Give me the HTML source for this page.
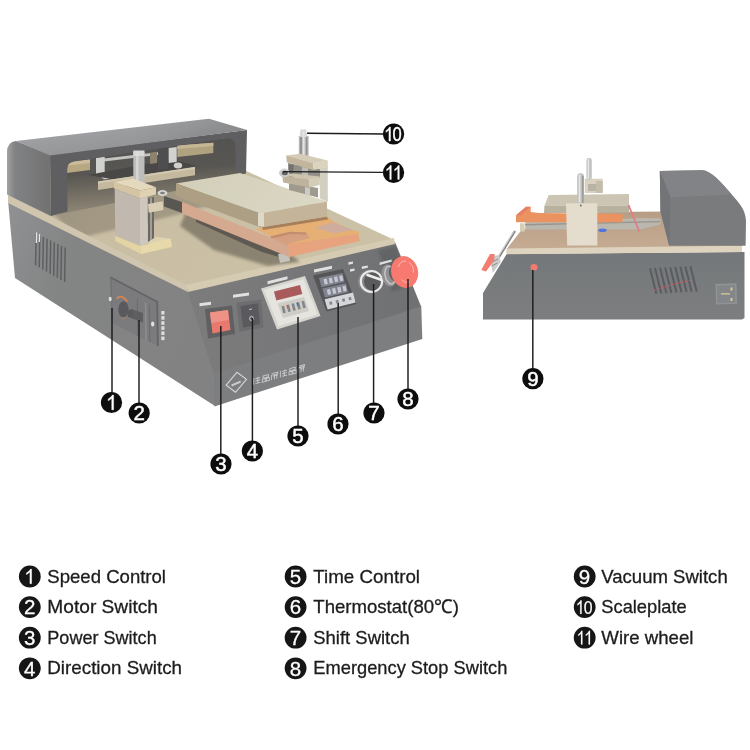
<!DOCTYPE html>
<html>
<head>
<meta charset="utf-8">
<title>Separator machine parts</title>
<style>
html,body{margin:0;padding:0;background:#fff;}
body{width:750px;height:750px;overflow:hidden;font-family:"Liberation Sans",sans-serif;}
svg{display:block;position:absolute;left:0;top:0;}
.lg{font-family:"Liberation Sans",sans-serif;font-size:19px;fill:#1c1c1c;}
.bn{font-family:"Liberation Sans",sans-serif;font-weight:bold;fill:#fff;text-anchor:middle;}
</style>
</head>
<body>
<svg width="750" height="750" viewBox="0 0 750 750">
<defs>
<filter id="soft" x="-5%" y="-5%" width="110%" height="110%" color-interpolation-filters="sRGB"><feGaussianBlur stdDeviation="0.6" result="b"/><feComponentTransfer in="b"><feFuncR type="linear" slope="1.08" intercept="-0.08"/><feFuncG type="linear" slope="1.08" intercept="-0.08"/><feFuncB type="linear" slope="1.08" intercept="-0.08"/></feComponentTransfer></filter>
<filter id="soft2" x="-5%" y="-5%" width="110%" height="110%"><feGaussianBlur stdDeviation="0.35"/></filter>
<filter id="soft3" x="-10%" y="-10%" width="120%" height="120%"><feGaussianBlur stdDeviation="1.6"/></filter>

<linearGradient id="gHoodL" x1="0" y1="0" x2="1" y2="0"><stop offset="0" stop-color="#a9a9aa"/><stop offset="0.18" stop-color="#8b8c8d"/><stop offset="1" stop-color="#7c7c7d"/></linearGradient>
<linearGradient id="gHoodT" gradientUnits="userSpaceOnUse" x1="120" y1="127" x2="123" y2="148"><stop offset="0" stop-color="#a6a7a9"/><stop offset="1" stop-color="#9c9d9f"/></linearGradient>
<linearGradient id="gHoodTx" x1="0" y1="0" x2="1" y2="0"><stop offset="0" stop-color="#000" stop-opacity="0"/><stop offset="0.5" stop-color="#000" stop-opacity="0.0"/><stop offset="1" stop-color="#000" stop-opacity="0.07"/></linearGradient>
<linearGradient id="gBodyL" x1="0" y1="0" x2="1" y2="0.4"><stop offset="0" stop-color="#989a9c"/><stop offset="0.3" stop-color="#8e8f8f"/><stop offset="1" stop-color="#8c8c8d"/></linearGradient>
<linearGradient id="gPanel" x1="0" y1="0" x2="1" y2="0"><stop offset="0" stop-color="#868687"/><stop offset="1" stop-color="#7b7c7e"/></linearGradient>
<linearGradient id="gTan" x1="0" y1="0" x2="1" y2="0.3"><stop offset="0" stop-color="#bdb4a1"/><stop offset="0.35" stop-color="#cdc3ab"/><stop offset="1" stop-color="#cfc6ae"/></linearGradient>
<linearGradient id="gPlate" x1="0" y1="0" x2="1" y2="0.3"><stop offset="0" stop-color="#d6d2be"/><stop offset="1" stop-color="#dddac8"/></linearGradient>
<linearGradient id="gFloor" x1="0" y1="0" x2="0.15" y2="1"><stop offset="0" stop-color="#5f5f5f"/><stop offset="0.5" stop-color="#65635f"/><stop offset="1" stop-color="#9a9282"/></linearGradient>

<linearGradient id="gRBody" x1="0" y1="0" x2="0" y2="1"><stop offset="0" stop-color="#7f8284"/><stop offset="1" stop-color="#868889"/></linearGradient>
<linearGradient id="gRTan" x1="0" y1="0" x2="0" y2="1"><stop offset="0" stop-color="#bea58f"/><stop offset="1" stop-color="#c9b29b"/></linearGradient>

</defs>
<rect width="750" height="750" fill="#ffffff"/>
<!-- left machine -->
<g filter="url(#soft)">
<polygon points="8,200 188,289 215,374 215,406 15,278" fill="url(#gBodyL)"/>
<polygon points="187,289 395,242 421.3,307 214,375" fill="url(#gPanel)"/>
<polygon points="214,373 421.3,306.5 422.3,339 214.5,406.5" fill="#87888a"/>
<polygon points="8,196 187,288 394.5,240 240,168 50,150" fill="url(#gTan)"/>
<polygon points="51,212 236,172 262,190 180,214 80,238" fill="#3a3630" opacity="0.24" filter="url(#soft3)"/>
<polygon points="8,195 186,285 188,292 8,203" fill="#d4cab5"/>
<polygon points="186,285 394,238 395,244 188,292" fill="#d9cfb8"/>
<polygon points="60,160 240,136 240,178 60,214" fill="url(#gFloor)"/>
<polygon points="66.7,162 90,159.5 90,170 66.7,173" fill="#bdae8c"/>
<polygon points="66.7,162 90,159.5 90,163 66.7,165.5" fill="#cfc2a2"/>
<polygon points="104,158.6 160,152 160,154.8 104,161.6" fill="#c9c9c6"/>
<polygon points="96,157.5 104.7,156.7 104.7,175 96,175" fill="#d5d5d2"/>
<ellipse cx="106" cy="176" rx="5" ry="3.2" fill="#d8d8d6"/>
<polygon points="88,175 114,179.5 196,166 172,159" fill="#575654"/>
<polygon points="150,152.7 157,152 157,163 150,164" fill="#968c78"/>
<polygon points="158,147 168,146.5 168,169 158,170" fill="#5c5c5d"/>
<polygon points="168.7,148 176.7,147 176.7,162 168.7,163" fill="#d6d6d3"/>
<polygon points="177.3,145.5 213.3,142.8 213.3,153 177.3,157" fill="#b7a989"/>
<polygon points="177.3,145.5 213.3,142.8 213.3,146 177.3,149" fill="#c9bc9c"/>
<ellipse cx="178" cy="165.5" rx="4.2" ry="3" fill="#d4d4d2"/>
<polygon points="98,181.5 195,167 195,175.3 98,190" fill="#c9bfa6"/>
<polygon points="98,181.5 195,167 195,169 98,183.5" fill="#d6cdb7"/>
<path fill-rule="evenodd" fill="#6b6b6d" d="M50,154.5 L247,130 L246,173.5 L235.5,175.5 L235.3,146 Q235,137.6 226,138.2 L74,161.6 Q67,162.8 67.2,169.5 L67.5,211.5 L51,216 Z"/>
<path d="M7,194.5 L7,152 Q7,142 16,141 L50,154.5 L51,216 Z" fill="url(#gHoodL)"/>
<polygon points="16,141 209,118.7 247,130 50,155.4" fill="url(#gHoodT)"/>
<polygon points="16,141 209,118.7 247,130 50,155.4" fill="url(#gHoodTx)"/>
<polygon points="186,212 230,231 288,252 300,262 268,266 214,250 180,226" fill="#6e675b" opacity="0.6" filter="url(#soft3)"/>
<polygon points="196,214 264,244 286,254 286,259 262,252 196,222" fill="#6a665f"/>
<polygon points="278,254 289,252 290,261 280,263" fill="#c9c7c0"/>
<polygon points="182,202 288,244.6 289,257 182,213.5" fill="#d9b099"/>
<polygon points="256,229.5 262,227 327,216.5 334,222 352,230 360,232 358,235 290,247.6 288,244.6" fill="#e8b57e"/>
<polygon points="288,244.4 358,234 360,241 289,257" fill="#e9aa88"/>
<polygon points="262,227 327,216.5 328,219.5 263,230" fill="#7d6455" opacity="0.55"/>
<polygon points="315,227.4 333,222.6 353,230 334,233.6" fill="#d2b3a6"/>
<polygon points="270,236.5 290,231.8 306,232.6 310,238 289,243.8 287,246" fill="#d9a78c"/>
<polygon points="270,236.5 290,231.8 306,232.6 307,234.4 291,234 272,238.6" fill="#c99579"/>
<polygon points="176,183.5 240,173 327,201.5 261,213.5" fill="url(#gPlate)"/>
<polygon points="176,183.5 261,213.5 261,227.5 176,196" fill="#b3a78e"/>
<polygon points="261,213.5 327,201.5 327,216.5 261,227.5" fill="#c9bba2"/>
<polygon points="258,212.5 264,213 264,226.5 258,226" fill="#e1dccb"/>
<polygon points="164,196 182,202 182,213 164,206.5" fill="#66645f"/>
<polygon points="133.3,152 144.5,152 144.5,184 133.3,183.5" fill="#c3c3c1"/>
<polygon points="133.3,150.5 144.5,150.5 144.5,156 133.3,156" fill="#dcdcdb"/>
<polygon points="136,152 138.5,152 138.5,183 136,183" fill="#e3e3e2" opacity="0.7"/>
<polygon points="114,182 133,178.5 156,187.3 140,190.5" fill="#e7dcc2"/>
<polygon points="114,182 140,190.5 140,198.5 114,188.5" fill="#d9caab"/>
<polygon points="140,190.5 156,187.3 156,194.5 140,198.5" fill="#e2d6ba"/>
<polygon points="114.7,188.5 140,198.5 140,246 115.3,236" fill="#c6bfb5"/>
<polygon points="140,198.5 147.5,196.5 147.5,243 140,246" fill="#d2ccc2"/>
<polygon points="148,198 154,197 154,242 148,243" fill="#77756f"/>
<polygon points="150,198 152,197.7 152,242.3 150,242.6" fill="#a9a7a0"/>
<polygon points="148,204 162.7,201.3 163.3,210 148.7,212.7" fill="#ddd3bb"/>
<ellipse cx="162.5" cy="193" rx="5" ry="3" fill="#d9d9d7"/>
<ellipse cx="162.5" cy="193" rx="2.4" ry="1.3" fill="#8a8a88"/>
<polygon points="147,242.7 156,236.7 170.7,238.7 153,245" fill="#e2d6b6"/>
<polygon points="115.3,236 140,246 141,254 115.3,241" fill="#e6d7aa"/>
<polygon points="140,246 170.7,238.5 172,247 141,254" fill="#eadcb2"/>
<polygon points="319.8,168 327.8,166.8 327.8,202 319.8,198.5" fill="#d6d3c6"/>
<polygon points="288,163 320,169 320,179 288,176" fill="#9b9992"/>
<polygon points="289,164 293.5,165 293.5,178 289,177" fill="#7f7d78"/>
<polygon points="302,167 308,168 308,181 302,180" fill="#c2c1bc"/>
<polygon points="289,183 318,188 318,197.5 289,190" fill="#a7a296"/>
<polygon points="305,187 310,188 310,196 305,195" fill="#cfcfcb"/>
<polygon points="298.8,136 308.6,136 308.6,158.5 298.8,158.5" fill="#bdbdbb"/>
<polygon points="300.6,129.6 306.2,129.6 307,137 299.8,137" fill="#d9d9d8"/>
<rect x="300.3" y="137" width="1.4" height="21" fill="#8e8e8c"/>
<rect x="302.6" y="131" width="2" height="27" fill="#e6e6e5"/>
<rect x="306" y="137" width="1.3" height="21" fill="#9a9a98"/>
<polygon points="286.2,155.6 300,153.8 327.8,160.6 313.2,163.4" fill="#d8d0bc"/>
<polygon points="286.2,155.6 313.2,163.2 313.2,170 286.8,162.2" fill="#c8bca5"/>
<polygon points="313.2,163.2 327.8,160.6 327.8,167 313.2,170" fill="#ddd7c3"/>
<polygon points="282,175 292,173.4 319.8,176.4 309.6,179.8" fill="#d3cab5"/>
<polygon points="282,175 309.6,179.8 309.6,187.4 283.2,182.6" fill="#c3b9a4"/>
<polygon points="309.6,179.6 319.8,176.4 319.8,185 309.6,187.4" fill="#d7d0bd"/>
<ellipse cx="284.2" cy="172.8" rx="5.2" ry="4.4" fill="#cfcfcd"/>
<ellipse cx="284.8" cy="173" rx="3" ry="2.2" fill="#6f6f72"/>
<path d="M279.4,171.5 A5.2,4.4 0 0 1 288.5,170.5" fill="none" stroke="#efefee" stroke-width="1"/>
<polygon points="205,309 232,305.5 235,334 208,338.5" fill="#6c6c6e"/>
<polygon points="210,312.5 228,310 230.5,330 212.5,333.5" fill="#eb8379"/>
<polygon points="210,312.5 228,310 229,320 211.2,323" fill="#f09a90"/>
<polygon points="236.5,303 261,299.5 263.5,327.5 239.5,331.5" fill="#78787a"/>
<polygon points="240.5,306 258,303.3 260,324 243,327.8" fill="#67676a"/>
<ellipse cx="251.5" cy="318.5" rx="1.8" ry="2.2" fill="none" stroke="#e8e8e8" stroke-width="0.8"/>
<line x1="249" y1="309.5" x2="252" y2="309" stroke="#e0e0e0" stroke-width="0.8"/>
<polygon points="261,288.5 305,276 320.5,316 277,329.5" fill="#d9d8d2"/>
<polygon points="264,290 303.5,279 317.5,314.5 278.5,326" fill="#e7e6e1"/>
<polygon points="274,291.5 300,285 302.3,294 276.3,300.5" fill="#b06868"/>
<polygon points="277.5,303.5 304,297 309,311 283,318" fill="#d2d1cb"/>
<polygon points="281.5,306.3 284.1,305.7 285.8,312.7 283.2,313.3" fill="#8d8f92"/>
<polygon points="286.5,305.1 289.1,304.4 290.8,311.4 288.2,312.1" fill="#8d8f92"/>
<polygon points="291.5,303.8 294.1,303.2 295.8,310.2 293.2,310.8" fill="#8d8f92"/>
<polygon points="296.5,302.6 299.1,301.9 300.8,308.9 298.2,309.6" fill="#8d8f92"/>
<polygon points="301.5,301.3 304.1,300.7 305.8,307.7 303.2,308.3" fill="#8d8f92"/>
<polygon points="286.3,305.5 287.8,305.1 288.6,308.3 287.1,308.7" fill="#d46a60"/>
<polygon points="296.4,303 297.9,302.6 298.7,305.8 297.2,306.2" fill="#5b77c0"/>
<polygon points="313,275.5 343,269 356.5,304 326.5,311.5" fill="#626265"/>
<polygon points="319,278 342.5,273 344.5,282 321.5,287.2" fill="#8b8d97"/>
<polygon points="322.3,288.5 346,283.3 348,292.3 325,297.5" fill="#8b8d97"/>
<polygon points="323.5,279.3 326.7,278.6 327.8,283.9 324.6,284.6" fill="#c9ccd6"/>
<polygon points="326.8,289.7 330.0,289.0 331.1,294.3 327.9,295.0" fill="#c9ccd6"/>
<polygon points="328.7,278.2 331.9,277.5 333.0,282.8 329.8,283.5" fill="#c9ccd6"/>
<polygon points="332.0,288.6 335.2,287.9 336.3,293.2 333.1,293.9" fill="#c9ccd6"/>
<polygon points="333.9,277.0 337.1,276.3 338.2,281.6 335.0,282.3" fill="#c9ccd6"/>
<polygon points="337.2,287.4 340.4,286.7 341.5,292.0 338.3,292.7" fill="#c9ccd6"/>
<polygon points="339.1,275.9 342.3,275.2 343.4,280.5 340.2,281.2" fill="#c9ccd6"/>
<polygon points="342.4,286.2 345.6,285.6 346.7,290.9 343.5,291.6" fill="#c9ccd6"/>
<polygon points="324.6,299.2 353,292.6 355.6,302.4 327.6,309.6" fill="#d9dadd"/>
<polygon points="329.1,301.9 331.7,301.3 332.5,304.3 329.9,304.9" fill="#8f9197"/>
<polygon points="335.5,300.4 338.1,299.8 338.9,302.8 336.3,303.4" fill="#8f9197"/>
<polygon points="341.9,298.9 344.5,298.3 345.3,301.3 342.7,301.9" fill="#8f9197"/>
<polygon points="348.3,297.4 350.9,296.8 351.7,299.8 349.1,300.4" fill="#8f9197"/>
<polygon points="378,250 396,246 410,285 392,292" fill="#000" opacity="0.1" filter="url(#soft3)"/>
<ellipse cx="370.8" cy="281.6" rx="13" ry="11.8" fill="#8f8f91"/>
<ellipse cx="371.4" cy="281.4" rx="10.6" ry="10.4" fill="none" stroke="#ececec" stroke-width="2.2"/>
<ellipse cx="372.4" cy="281.6" rx="8.4" ry="9.2" fill="#68686a"/>
<line x1="367.5" y1="275" x2="382.5" y2="280.2" stroke="#f0f0f0" stroke-width="2.6" stroke-linecap="round"/>
<ellipse cx="388.8" cy="275.4" rx="7.2" ry="11.2" fill="#9a9a9c" transform="rotate(-12 389.5 275)"/>
<ellipse cx="390" cy="275" rx="5" ry="9" fill="none" stroke="#c9c9ca" stroke-width="1.5" transform="rotate(-12 390.5 274.6)"/>
<ellipse cx="394" cy="273.5" rx="5" ry="8" fill="#707073" transform="rotate(-12 394 273.5)"/>
<ellipse cx="404.6" cy="272" rx="13.4" ry="16" fill="#f8837b" transform="rotate(-14 404.6 272)"/>
<path d="M398.5,267 A7,9 -14 0 1 406,261.2" fill="none" stroke="#f8c9c3" stroke-width="0.9"/>
<path d="M409,262.4 A7,9 -14 0 1 413.3,272.5" fill="none" stroke="#f8c9c3" stroke-width="0.9"/>
<path d="M409.5,281.7 A7,9 -14 0 1 401.6,279.6" fill="none" stroke="#f8c9c3" stroke-width="0.9"/>
<polygon points="199.5,303.2 211.0,301.7 211.0,304.7 199.5,306.2" fill="#f4f4f5" opacity="0.85"/>
<polygon points="233.0,294.8 249.0,292.6 249.0,295.6 233.0,297.8" fill="#f4f4f5" opacity="0.85"/>
<polygon points="267.5,281.2 287.5,276.2 287.5,279.2 267.5,284.2" fill="#f4f4f5" opacity="0.85"/>
<polygon points="314.0,269.4 332.0,265.8 332.0,268.8 314.0,272.4" fill="#f4f4f5" opacity="0.85"/>
<polygon points="348.4,262.3 353.0,261.4 353.0,263.8 348.4,264.7" fill="#f4f4f5" opacity="0.85"/>
<polygon points="350.0,269.3 354.6,268.4 354.6,270.8 350.0,271.7" fill="#f4f4f5" opacity="0.85"/>
<polygon points="361.8,266.6 367.8,265.4 367.8,267.8 361.8,269.0" fill="#f4f4f5" opacity="0.85"/>
<polygon points="379.6,262.6 391.6,259.4 391.6,261.8 379.6,265.0" fill="#f4f4f5" opacity="0.85"/>
<polygon points="226.2,385.2 237,372.2 246.5,379.3 235.5,392.3" fill="none" stroke="#dcdcde" stroke-width="1.1"/>
<polygon points="231.3,384.6 240.5,380.6 241,382.6 231.8,386.6" fill="#dcdcde" opacity="0.85"/>
<g transform="translate(253.2 378.2) skewY(-15)" stroke="#d6d6d9" stroke-width="0.9" fill="none" opacity="0.9"><path d="M0.5,0 V6.6 M2.2,1.2 H7 M2.2,3.4 H7 M4.6,0 V6.8 M2.2,6 H7.2"/></g>
<g transform="translate(262.1 375.8) skewY(-15)" stroke="#d6d6d9" stroke-width="0.9" fill="none" opacity="0.9"><path d="M1,0.4 H6.4 V2.6 H1 Z M0.2,3.6 H3.2 V6.6 H0.2 Z M4.2,3.6 H7.2 V6.6 H4.2 Z"/></g>
<g transform="translate(271.0 373.4) skewY(-15)" stroke="#d6d6d9" stroke-width="0.9" fill="none" opacity="0.9"><path d="M0.6,0.4 H6.8 V2 H0.6 V6.8 M2.2,3.4 H7 M3.4,2.2 V6.8 M5.8,2.2 V6.8"/></g>
<g transform="translate(279.9 370.9) skewY(-15)" stroke="#d6d6d9" stroke-width="0.9" fill="none" opacity="0.9"><path d="M0.5,0 V6.6 M2.2,1.2 H7 M2.2,3.4 H7 M4.6,0 V6.8 M2.2,6 H7.2"/></g>
<g transform="translate(288.8 368.5) skewY(-15)" stroke="#d6d6d9" stroke-width="0.9" fill="none" opacity="0.9"><path d="M1,0.4 H6.4 V2.6 H1 Z M0.2,3.6 H3.2 V6.6 H0.2 Z M4.2,3.6 H7.2 V6.6 H4.2 Z"/></g>
<g transform="translate(297.7 366.1) skewY(-15)" stroke="#d6d6d9" stroke-width="0.9" fill="none" opacity="0.9"><path d="M0.6,0.4 H6.8 V2 H0.6 V6.8 M2.2,3.4 H7 M3.4,2.2 V6.8 M5.8,2.2 V6.8"/></g>
<line x1="36.2" y1="233.5" x2="35.6" y2="265.5" stroke="#6b6b6e" stroke-width="1.5"/>
<line x1="39.8" y1="235.2" x2="39.2" y2="267.6" stroke="#6b6b6e" stroke-width="1.5"/>
<line x1="43.4" y1="237.0" x2="42.8" y2="269.6" stroke="#6b6b6e" stroke-width="1.5"/>
<line x1="47.1" y1="238.8" x2="46.5" y2="271.6" stroke="#6b6b6e" stroke-width="1.5"/>
<line x1="50.7" y1="240.5" x2="50.1" y2="273.7" stroke="#6b6b6e" stroke-width="1.5"/>
<line x1="54.3" y1="242.2" x2="53.7" y2="275.8" stroke="#6b6b6e" stroke-width="1.5"/>
<line x1="57.9" y1="244.0" x2="57.3" y2="277.8" stroke="#6b6b6e" stroke-width="1.5"/>
<line x1="61.5" y1="245.8" x2="60.9" y2="279.9" stroke="#6b6b6e" stroke-width="1.5"/>
<line x1="65.2" y1="247.5" x2="64.6" y2="281.9" stroke="#6b6b6e" stroke-width="1.5"/>
<line x1="36.6" y1="232.5" x2="36.3" y2="243" stroke="#e9e9ea" stroke-width="1.3"/>
<line x1="39.6" y1="234" x2="39.4" y2="242" stroke="#e9e9ea" stroke-width="1.2"/>
<polygon points="110,277 157.2,301.5 158,346 112,323" fill="#858587"/>
<polyline points="110.3,277.3 157.2,301.8 157.9,346" fill="none" stroke="#707073" stroke-width="1.8"/>
<polyline points="111,278 112.3,322" fill="none" stroke="#7c7c7f" stroke-width="1.2"/>
<line x1="137.4" y1="299" x2="137.8" y2="336" stroke="#77777a" stroke-width="1.1"/>
<line x1="145.6" y1="303" x2="146" y2="340" stroke="#98989a" stroke-width="1.4"/>
<line x1="149.4" y1="305" x2="149.8" y2="342" stroke="#77777a" stroke-width="1.1"/>
<ellipse cx="123.5" cy="309.5" rx="5.2" ry="8.2" fill="#66666a"/>
<path d="M116.6,298.6 Q122,293.5 127.3,301.6" fill="none" stroke="#d98f63" stroke-width="1.8"/>
<path d="M121,317.8 Q124.5,319 126.5,316.5" fill="none" stroke="#c78a68" stroke-width="1.1" opacity="0.8"/>
<polygon points="131,309 143,313 143,322.5 131,318" fill="#6a6a6d"/>
<polygon points="128,310.5 133,309 133,318.2 128,317" fill="#67676a"/>
<ellipse cx="110.2" cy="299" rx="1.5" ry="2.2" fill="#e3e3e1"/>
<ellipse cx="152.7" cy="324" rx="1.7" ry="2.5" fill="#e3e3e1"/>
<rect x="161.3" y="311.0" width="3.2" height="3.6" fill="#ededee" opacity="0.85"/>
<rect x="161.3" y="316.1" width="3.2" height="3.6" fill="#ededee" opacity="0.85"/>
<rect x="161.3" y="321.2" width="3.2" height="3.6" fill="#ededee" opacity="0.85"/>
<rect x="161.3" y="326.3" width="3.2" height="3.6" fill="#ededee" opacity="0.85"/>
<rect x="161.3" y="331.4" width="3.2" height="3.6" fill="#ededee" opacity="0.85"/>
<rect x="161.3" y="336.5" width="3.2" height="3.6" fill="#ededee" opacity="0.85"/>
</g>
<!-- right machine -->
<g filter="url(#soft)">
<polygon points="506.7,254 744.5,252 744.5,318 742,319.5 483,319.5 483,293" fill="url(#gRBody)"/>
<polygon points="521.5,230 600,212 670,211.5 670,240 742,240 742,249 506.7,249" fill="url(#gRTan)"/>
<polygon points="506.5,248.6 742,245.8 742,252 506.5,254.2" fill="#e1d7c3"/>
<line x1="515" y1="231" x2="497.5" y2="259.5" stroke="#8b8b8b" stroke-width="2.2"/>
<line x1="514" y1="231" x2="496.5" y2="259.5" stroke="#d2d2d2" stroke-width="1.2"/>
<polygon points="525.3,218.5 566,222 640,218 660.5,218.5 660.5,224.5 640,229.5 525.3,229.6" fill="#c0bdb5"/>
<polygon points="525.3,224 660,221 660,222.2 525.3,225.4" fill="#9f9d97"/>
<polygon points="520,223.3 524.7,223.3 524.7,231.5 520,231.5" fill="#dbd2bd"/>
<ellipse cx="602.5" cy="230.3" rx="4.2" ry="1.8" fill="#5d7fe0"/>
<polygon points="548.7,195 629,194 629,205.5 544.4,206" fill="#d0cab9"/>
<polygon points="544.4,206 629,205.5 629,212.5 544,213.2" fill="#bdb7a6"/>
<polygon points="516,215.3 526,206.8 530.7,206.8 530.7,212 539,213 622.5,214 622.5,222.3 516,222.3" fill="#ed9b6c"/>
<polygon points="516,215.3 526,206.8 530.7,206.8 521,215.3" fill="#e88a70"/>
<line x1="628.5" y1="205" x2="639.3" y2="231.5" stroke="#e28892" stroke-width="1.9"/>
<polygon points="584.7,178.7 602.7,178.7 602.7,193 584.7,193" fill="#ddd5c3"/>
<polygon points="596,181 602.7,181 602.7,193 596,193" fill="#c9c2b0"/>
<polygon points="588,184 596,184 596,191 588,191" fill="#bdb9ad"/>
<rect x="586.4" y="158" width="5.4" height="22" rx="2.4" fill="#c8c8c6"/>
<rect x="587.6" y="159" width="1.5" height="20" fill="#e9e9e8"/>
<rect x="577.2" y="173.2" width="6.8" height="31" rx="3" fill="#c4c4c2"/>
<rect x="578.6" y="174.5" width="1.8" height="28" fill="#e8e8e7"/>
<rect x="582" y="176" width="1.6" height="27" fill="#a3a3a1"/>
<polygon points="566,203.3 597.3,203.3 597.3,245.5 567.2,245.5" fill="#e6e0d1"/>
<circle cx="580.8" cy="205.5" r="0.9" fill="#77756f"/>
<polygon points="490,256.5 499.3,255 500.7,262 492.7,273" fill="#cfcfcf"/>
<line x1="492" y1="262" x2="498" y2="259" stroke="#8a8a8a" stroke-width="0.8"/>
<line x1="491.5" y1="266" x2="497.5" y2="263" stroke="#8a8a8a" stroke-width="0.8"/>
<polygon points="481.3,270 490,254 494.7,254 494,260.7 486,271.5" fill="#f3877b"/>
<ellipse cx="534" cy="267.2" rx="3.5" ry="3.3" fill="#f5837a"/>
<path d="M659.8,171 L702,170.3 C711,170.6 721,182 731.8,194.6 C738.5,202.5 745.5,209 746,221 L745.6,245.8 L669,245.8 L660.5,211.5 Z" fill="#848587"/>
<path d="M659.8,171 L702,170.3 C711,170.6 721,182 731.8,194.6 L670,197.2 Z" fill="#8c8d8f"/>
<polygon points="659.8,171 670.4,196.7 669.6,245.8 660.5,211.5" fill="#7e7f82"/>
<line x1="650.0" y1="268.2" x2="656.3" y2="293.8" stroke="#66686c" stroke-width="1.9"/>
<line x1="655.0" y1="267.9" x2="661.3" y2="293.5" stroke="#66686c" stroke-width="1.9"/>
<line x1="660.1" y1="267.7" x2="666.4" y2="293.2" stroke="#66686c" stroke-width="1.9"/>
<line x1="665.1" y1="267.4" x2="671.4" y2="292.9" stroke="#66686c" stroke-width="1.9"/>
<line x1="670.2" y1="267.2" x2="676.5" y2="292.6" stroke="#66686c" stroke-width="1.9"/>
<line x1="675.2" y1="266.9" x2="681.5" y2="292.3" stroke="#66686c" stroke-width="1.9"/>
<line x1="680.3" y1="266.7" x2="686.6" y2="292.0" stroke="#66686c" stroke-width="1.9"/>
<line x1="685.4" y1="266.4" x2="691.6" y2="291.7" stroke="#66686c" stroke-width="1.9"/>
<line x1="690.4" y1="266.2" x2="696.7" y2="291.4" stroke="#66686c" stroke-width="1.9"/>
<path d="M654,290.5 Q672,284 690,280.5" fill="none" stroke="#e0626a" stroke-width="1" stroke-dasharray="2.2 1.4"/>
<polygon points="715.5,284 736.5,283.2 737,304 716,304.6" fill="#9a9c9f"/>
<polygon points="717,285.4 735,284.7 735.5,302.7 717.5,303.3" fill="#8e9093"/>
<rect x="730.5" y="287.5" width="2" height="3" fill="#d9cf9b"/>
<rect x="730.5" y="298" width="2" height="3" fill="#d9cf9b"/>
<rect x="721" y="293.2" width="9" height="1.3" fill="#d9cf9b"/>
</g>
<!-- callouts -->
<g filter="url(#soft2)">
<line x1="112.0" y1="308.0" x2="112.0" y2="392.0" stroke="#1c1c1c" stroke-width="1.45"/>
<line x1="139.0" y1="320.0" x2="139.0" y2="403.0" stroke="#1c1c1c" stroke-width="1.45"/>
<line x1="220.8" y1="326.0" x2="220.8" y2="454.0" stroke="#1c1c1c" stroke-width="1.45"/>
<line x1="252.4" y1="318.0" x2="252.4" y2="441.0" stroke="#1c1c1c" stroke-width="1.45"/>
<line x1="298.0" y1="317.0" x2="298.0" y2="426.0" stroke="#1c1c1c" stroke-width="1.45"/>
<line x1="338.2" y1="303.0" x2="338.2" y2="414.0" stroke="#1c1c1c" stroke-width="1.45"/>
<line x1="373.6" y1="284.0" x2="373.6" y2="403.0" stroke="#1c1c1c" stroke-width="1.45"/>
<line x1="408.0" y1="279.0" x2="408.0" y2="389.0" stroke="#1c1c1c" stroke-width="1.45"/>
<line x1="532.8" y1="270.0" x2="532.8" y2="368.0" stroke="#1c1c1c" stroke-width="1.45"/>
<line x1="307.0" y1="133.2" x2="383.0" y2="134.0" stroke="#1c1c1c" stroke-width="1.45"/>
<line x1="283.0" y1="171.6" x2="383.0" y2="172.4" stroke="#1c1c1c" stroke-width="1.45"/>
<circle cx="111.5" cy="402.5" r="10.6" fill="#111"/>
<path d="M113.58,409.80 L111.78,409.80 L111.78,398.32 Q110.79,399.29 108.22,400.72 L108.22,398.98 Q111.19,397.49 112.42,395.07 L113.58,395.07 Z" fill="#fff" stroke="#fff" stroke-width="0.45"/>
<circle cx="139.2" cy="413.0" r="10.6" fill="#111"/>
<text class="bn" x="139.2" y="420.3" font-size="20.5" stroke="#fff" stroke-width="0.45" style="font-weight:normal">2</text>
<circle cx="221.0" cy="464.0" r="10.6" fill="#111"/>
<text class="bn" x="221.0" y="471.3" font-size="20.5" stroke="#fff" stroke-width="0.45" style="font-weight:normal">3</text>
<circle cx="252.4" cy="451.0" r="10.6" fill="#111"/>
<text class="bn" x="252.4" y="458.3" font-size="20.5" stroke="#fff" stroke-width="0.45" style="font-weight:normal">4</text>
<circle cx="298.0" cy="436.0" r="10.6" fill="#111"/>
<text class="bn" x="298.0" y="443.3" font-size="20.5" stroke="#fff" stroke-width="0.45" style="font-weight:normal">5</text>
<circle cx="338.0" cy="424.0" r="10.6" fill="#111"/>
<text class="bn" x="338.0" y="431.3" font-size="20.5" stroke="#fff" stroke-width="0.45" style="font-weight:normal">6</text>
<circle cx="374.0" cy="413.0" r="10.6" fill="#111"/>
<text class="bn" x="374.0" y="420.3" font-size="20.5" stroke="#fff" stroke-width="0.45" style="font-weight:normal">7</text>
<circle cx="408.0" cy="399.0" r="10.6" fill="#111"/>
<text class="bn" x="408.0" y="406.3" font-size="20.5" stroke="#fff" stroke-width="0.45" style="font-weight:normal">8</text>
<circle cx="532.9" cy="378.7" r="10.6" fill="#111"/>
<text class="bn" x="532.9" y="386.0" font-size="20.5" stroke="#fff" stroke-width="0.45" style="font-weight:normal">9</text>
<circle cx="393.6" cy="134.0" r="10.6" fill="#111"/>
<path d="M390.50,141.00 L388.95,141.00 L388.95,130.08 Q388.11,131.00 385.90,132.36 L385.90,130.71 Q388.45,129.29 389.50,126.98 L390.50,126.98 Z" fill="#fff" stroke="#fff" stroke-width="0.40"/>
<text class="bn" x="397.2" y="141.0" font-size="19.5" textLength="9.2" lengthAdjust="spacingAndGlyphs" stroke="#fff" stroke-width="0.4" style="font-weight:normal">0</text>
<circle cx="393.6" cy="172.4" r="10.6" fill="#111"/>
<path d="M391.30,179.40 L389.75,179.40 L389.75,168.48 Q388.91,169.40 386.70,170.76 L386.70,169.11 Q389.25,167.69 390.30,165.38 L391.30,165.38 Z" fill="#fff" stroke="#fff" stroke-width="0.40"/>
<path d="M399.30,179.40 L397.75,179.40 L397.75,168.48 Q396.91,169.40 394.70,170.76 L394.70,169.11 Q397.25,167.69 398.30,165.38 L399.30,165.38 Z" fill="#fff" stroke="#fff" stroke-width="0.40"/>
</g>
<!-- legend -->
<g filter="url(#soft2)">
<circle cx="29.8" cy="576.5" r="10.9" fill="#141414"/>
<path d="M31.68,583.80 L29.88,583.80 L29.88,572.32 Q28.89,573.29 26.32,574.72 L26.32,572.98 Q29.29,571.49 30.52,569.07 L31.68,569.07 Z" fill="#fff" stroke="#fff" stroke-width="0.30"/>
<text class="lg" stroke="#1c1c1c" stroke-width="0.3" x="47.3" y="582.6" textLength="118.7" lengthAdjust="spacingAndGlyphs">Speed Control</text>
<circle cx="29.8" cy="607.1" r="10.9" fill="#141414"/>
<text class="bn" x="29.6" y="614.4" font-size="20.5" stroke="#fff" stroke-width="0.3" style="font-weight:normal">2</text>
<text class="lg" stroke="#1c1c1c" stroke-width="0.3" x="47.3" y="613.0" textLength="110.7" lengthAdjust="spacingAndGlyphs">Motor Switch</text>
<circle cx="29.8" cy="637.7" r="10.9" fill="#141414"/>
<text class="bn" x="29.6" y="645.0" font-size="20.5" stroke="#fff" stroke-width="0.3" style="font-weight:normal">3</text>
<text class="lg" stroke="#1c1c1c" stroke-width="0.3" x="47.3" y="643.6" textLength="109.4" lengthAdjust="spacingAndGlyphs">Power Switch</text>
<circle cx="29.8" cy="668.3" r="10.9" fill="#141414"/>
<text class="bn" x="29.6" y="675.6" font-size="20.5" stroke="#fff" stroke-width="0.3" style="font-weight:normal">4</text>
<text class="lg" stroke="#1c1c1c" stroke-width="0.3" x="47.3" y="673.8" textLength="134.7" lengthAdjust="spacingAndGlyphs">Direction Switch</text>
<circle cx="295.6" cy="576.5" r="10.9" fill="#141414"/>
<text class="bn" x="295.4" y="583.8" font-size="20.5" stroke="#fff" stroke-width="0.3" style="font-weight:normal">5</text>
<text class="lg" stroke="#1c1c1c" stroke-width="0.3" x="313.3" y="582.6" textLength="106.7" lengthAdjust="spacingAndGlyphs">Time Control</text>
<circle cx="295.6" cy="607.1" r="10.9" fill="#141414"/>
<text class="bn" x="295.4" y="614.4" font-size="20.5" stroke="#fff" stroke-width="0.3" style="font-weight:normal">6</text>
<text class="lg" stroke="#1c1c1c" stroke-width="0.3" x="313.3" y="613.0" textLength="145.6" lengthAdjust="spacingAndGlyphs">Thermostat(80℃)</text>
<circle cx="295.6" cy="637.7" r="10.9" fill="#141414"/>
<text class="bn" x="295.4" y="645.0" font-size="20.5" stroke="#fff" stroke-width="0.3" style="font-weight:normal">7</text>
<text class="lg" stroke="#1c1c1c" stroke-width="0.3" x="313.3" y="643.6" textLength="96.4" lengthAdjust="spacingAndGlyphs">Shift Switch</text>
<circle cx="295.6" cy="668.3" r="10.9" fill="#141414"/>
<text class="bn" x="295.4" y="675.6" font-size="20.5" stroke="#fff" stroke-width="0.3" style="font-weight:normal">8</text>
<text class="lg" stroke="#1c1c1c" stroke-width="0.3" x="313.3" y="673.8" textLength="194.1" lengthAdjust="spacingAndGlyphs">Emergency Stop Switch</text>
<circle cx="584.7" cy="576.5" r="10.9" fill="#141414"/>
<text class="bn" x="584.5" y="583.8" font-size="20.5" stroke="#fff" stroke-width="0.3" style="font-weight:normal">9</text>
<text class="lg" stroke="#1c1c1c" stroke-width="0.3" x="601.3" y="582.6" textLength="126.4" lengthAdjust="spacingAndGlyphs">Vacuum Switch</text>
<circle cx="584.7" cy="607.1" r="10.9" fill="#141414"/>
<path d="M581.61,613.90 L580.19,613.90 L580.19,603.26 Q579.41,604.16 577.39,605.49 L577.39,603.87 Q579.73,602.49 580.70,600.24 L581.61,600.24 Z" fill="#fff" stroke="#fff" stroke-width="0.20"/>
<text class="bn" x="588.2" y="613.9" font-size="19" textLength="8.8" lengthAdjust="spacingAndGlyphs" stroke="#fff" stroke-width="0.2" style="font-weight:normal">0</text>
<text class="lg" stroke="#1c1c1c" stroke-width="0.3" x="601.3" y="613.0" textLength="85.4" lengthAdjust="spacingAndGlyphs">Scaleplate</text>
<circle cx="584.7" cy="637.7" r="10.9" fill="#141414"/>
<path d="M582.41,644.50 L580.99,644.50 L580.99,633.86 Q580.21,634.76 578.19,636.09 L578.19,634.47 Q580.53,633.09 581.50,630.84 L582.41,630.84 Z" fill="#fff" stroke="#fff" stroke-width="0.20"/>
<path d="M590.01,644.50 L588.59,644.50 L588.59,633.86 Q587.81,634.76 585.79,636.09 L585.79,634.47 Q588.13,633.09 589.10,630.84 L590.01,630.84 Z" fill="#fff" stroke="#fff" stroke-width="0.20"/>
<text class="lg" stroke="#1c1c1c" stroke-width="0.3" x="601.3" y="643.6" textLength="92.2" lengthAdjust="spacingAndGlyphs">Wire wheel</text>
</g>
</svg>
</body>
</html>
